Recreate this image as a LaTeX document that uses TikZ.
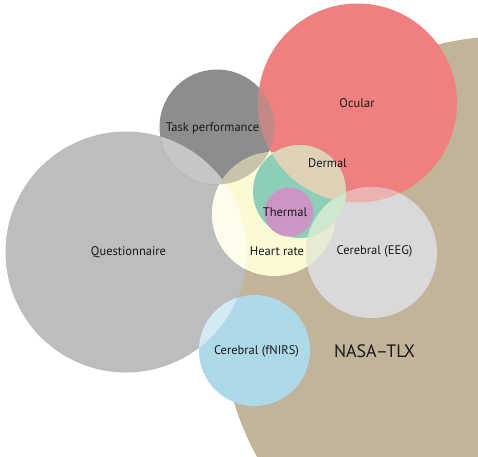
\documentclass[tikz,border=0pt]{standalone}
\usepackage{fontspec}
\setmainfont{PT Sans}

\definecolor{tlxtan}{RGB}{194,180,154}
\definecolor{quesgray}{RGB}{188,189,191}
\definecolor{taskgray}{RGB}{141,141,141}
\definecolor{ocured}{RGB}{240,128,128}
\definecolor{heartyel}{RGB}{252,249,213}
\definecolor{dermteal}{RGB}{140,206,184}
\definecolor{thermpink}{RGB}{204,150,196}
\definecolor{eeggray}{RGB}{217,217,217}
\definecolor{nirsblue}{RGB}{174,217,232}
% overlap tints
\definecolor{questask}{RGB}{198,198,198}
\definecolor{taskocu}{RGB}{196,136,134}
\definecolor{taskheart}{RGB}{200,196,172}
\definecolor{quesheart}{RGB}{254,253,236}
\definecolor{ocubeige}{RGB}{222,209,181}
\definecolor{eegocu}{RGB}{234,178,176}
\definecolor{eegheart}{RGB}{232,234,214}
\definecolor{eegderm}{RGB}{206,232,206}
\definecolor{nirsques}{RGB}{212,234,242}

\tikzset{lbl/.style={font=\fontsize{12.5}{14}\selectfont, text=black!90, inner sep=0pt}}

\begin{document}
\begin{tikzpicture}[x=1pt,y=-1pt]
\useasboundingbox (0,0) rectangle (478,456);
\clip (0,0) rectangle (478,456);

\coordinate (tlx) at (505.6,320);
\coordinate (ques) at (126,252);
\coordinate (task) at (217,127);
\coordinate (ocu) at (357.5,103);
\coordinate (heart) at (274,214);
\coordinate (derm) at (299.5,191.5);
\coordinate (therm) at (289,212);
\coordinate (eeg) at (371.5,252.5);
\coordinate (nirs) at (254.5,350.5);

% base circles
\fill [tlxtan] (tlx) circle (283.7);
\fill [quesgray] (ques) circle (120.5);
\fill [taskgray] (task) circle (57.5);
\fill [ocured] (ocu) circle (99.5);
\fill [heartyel] (heart) circle (62);
\fill [dermteal] (derm) circle (46.5);

% overlaps
\begin{scope}
\clip (ques) circle (120.5);
\fill [questask] (task) circle (57.5);
\fill [quesheart] (heart) circle (62);
\end{scope}
\begin{scope}
\clip (task) circle (57.5);
\fill [taskocu] (ocu) circle (99.5);
\fill [taskheart] (heart) circle (62);
\end{scope}
\begin{scope}
\clip (ocu) circle (99.5);
\fill [ocubeige] (heart) circle (62);
\fill [ocubeige] (derm) circle (46.5);
\end{scope}

\fill [thermpink] (therm) circle (24.5);

\fill [eeggray] (eeg) circle (65.5);
\begin{scope}
\clip (eeg) circle (65.5);
\fill [eegocu] (ocu) circle (99.5);
\fill [eegheart] (heart) circle (62);
\fill [eegderm] (derm) circle (46.5);
\end{scope}

\fill [nirsblue] (nirs) circle (55.5);
\begin{scope}
\clip (nirs) circle (55.5);
\fill [nirsques] (ques) circle (120.5);
\end{scope}

% labels
\node [lbl] (ocular) at (357,103) {Ocular};
\node [lbl] (taskperf) at (212.5,128) {Task performance};
\node [lbl] (dermal) at (327.5,163) {Dermal};
\node [lbl] (thermal) at (285,212.5) {Thermal};
\node [lbl] (heartrate) at (277,251.5) {Heart rate};
\node [lbl] (questionnaire) at (128.5,252.5) {Questionnaire};
\node [lbl] (cereeg) at (374.5,251) {Cerebral (EEG)};
\node [lbl] (cerfnirs) at (256.5,351) {Cerebral (fNIRS)};
\node [lbl, font=\fontsize{18}{20}\selectfont] (nasatlx) at (374.5,351) {NASA–TLX};

\end{tikzpicture}
\end{document}
